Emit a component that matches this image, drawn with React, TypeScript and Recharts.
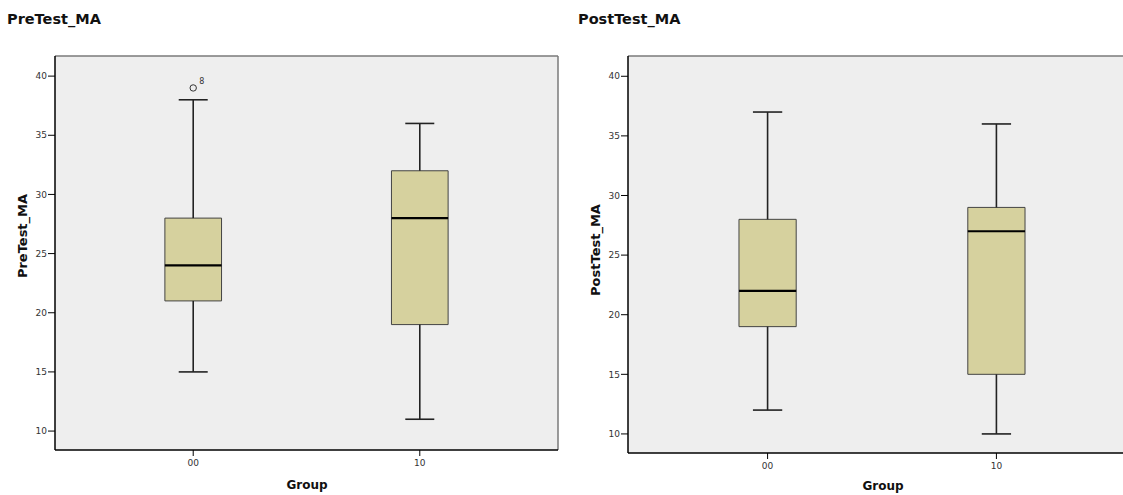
import { ComposedChart, ReferenceArea, ReferenceLine, Scatter, XAxis, YAxis } from 'recharts'

const groups = ['00', '10']
const yTicks = [10, 15, 20, 25, 30, 35, 40]

const preMin = [15, 11]
const preQ1 = [21, 19]
const preMedian = [24, 28]
const preQ3 = [28, 32]
const preMax = [38, 36]
const preOutlierGroup = [0]
const preOutlierValue = [39]
const preOutlierCase = ['8']

const postMin = [12, 10]
const postQ1 = [19, 15]
const postMedian = [22, 27]
const postQ3 = [28, 29]
const postMax = [37, 36]

const BOX_FILL = '#d6d19e'
const PLOT_BG = '#eeeeee'
const X_DOMAIN: [number, number] = [-0.61, 1.61]
const Y_DOMAIN: [number, number] = [8.4, 41.7]
const BOX_HALF = 0.125
const CAP_HALF = 0.064
const FONT = '"DejaVu Sans", Verdana, sans-serif'

type Stats = { min: number[]; q1: number[]; median: number[]; q3: number[]; max: number[] }
type Outlier = { x: number; y: number; label: string }

function OutlierMark(props: any) {
  const { cx, cy, payload } = props
  if (cx == null || cy == null) return null
  return (
    <g>
      <circle cx={cx} cy={cy} r={3.2} fill="none" stroke="#333" strokeWidth={1} />
      <text x={cx + 6} y={cy - 4} fontSize={8} fill="#333" fontFamily={FONT}>
        {payload.label}
      </text>
    </g>
  )
}

function BoxPanel({
  stats,
  outliers,
  width,
  height,
  margin,
}: {
  stats: Stats
  outliers: Outlier[]
  width: number
  height: number
  margin: { top: number; right: number; left: number; bottom: number }
}) {
  return (
    <ComposedChart width={width} height={height} margin={margin} data={outliers}>
      <ReferenceArea
        x1={X_DOMAIN[0]}
        x2={X_DOMAIN[1]}
        y1={Y_DOMAIN[0]}
        y2={Y_DOMAIN[1]}
        fill={PLOT_BG}
        fillOpacity={1}
        stroke="none"
        ifOverflow="visible"
      />
      <ReferenceLine
        segment={[{ x: X_DOMAIN[0], y: Y_DOMAIN[1] }, { x: X_DOMAIN[1], y: Y_DOMAIN[1] }]}
        stroke="#7a7a7a"
        strokeWidth={1.5}
        ifOverflow="visible"
      />
      <ReferenceLine
        segment={[{ x: X_DOMAIN[1], y: Y_DOMAIN[0] }, { x: X_DOMAIN[1], y: Y_DOMAIN[1] }]}
        stroke="#7a7a7a"
        strokeWidth={1.5}
        ifOverflow="visible"
      />
      {groups.map((_, i) => [
        <ReferenceLine
          key={`wl${i}`}
          segment={[{ x: i, y: stats.min[i] }, { x: i, y: stats.q1[i] }]}
          stroke="#222"
          strokeWidth={1.6}
        />,
        <ReferenceLine
          key={`wh${i}`}
          segment={[{ x: i, y: stats.q3[i] }, { x: i, y: stats.max[i] }]}
          stroke="#222"
          strokeWidth={1.6}
        />,
        <ReferenceLine
          key={`cl${i}`}
          segment={[{ x: i - CAP_HALF, y: stats.min[i] }, { x: i + CAP_HALF, y: stats.min[i] }]}
          stroke="#222"
          strokeWidth={1.6}
        />,
        <ReferenceLine
          key={`ch${i}`}
          segment={[{ x: i - CAP_HALF, y: stats.max[i] }, { x: i + CAP_HALF, y: stats.max[i] }]}
          stroke="#222"
          strokeWidth={1.6}
        />,
        <ReferenceArea
          key={`b${i}`}
          x1={i - BOX_HALF}
          x2={i + BOX_HALF}
          y1={stats.q1[i]}
          y2={stats.q3[i]}
          fill={BOX_FILL}
          fillOpacity={1}
          stroke="#444"
          strokeWidth={1}
        />,
        <ReferenceLine
          key={`m${i}`}
          segment={[{ x: i - BOX_HALF, y: stats.median[i] }, { x: i + BOX_HALF, y: stats.median[i] }]}
          stroke="#000"
          strokeWidth={2.2}
        />,
      ])}
      <Scatter dataKey="y" shape={<OutlierMark />} isAnimationActive={false} />
      <XAxis
        type="number"
        dataKey="x"
        domain={X_DOMAIN}
        ticks={[0, 1]}
        allowDataOverflow
        tickFormatter={(v: number) => groups[v] ?? ''}
        height={25}
        tickSize={6}
        tickMargin={4}
        axisLine={{ stroke: '#000', strokeWidth: 1.5 }}
        tickLine={{ stroke: '#000' }}
        tick={{ fontSize: 9, fill: '#333', fontFamily: FONT }}
      />
      <YAxis
        type="number"
        domain={Y_DOMAIN}
        ticks={yTicks}
        allowDataOverflow
        width={40}
        tickSize={7}
        tickMargin={1}
        axisLine={{ stroke: '#000', strokeWidth: 1.5 }}
        tickLine={{ stroke: '#000' }}
        tick={{ fontSize: 9, fill: '#333', fontFamily: FONT }}
      />
    </ComposedChart>
  )
}

const textBold = { position: 'absolute' as const, fontFamily: FONT, fontWeight: 'bold' as const, color: '#111', whiteSpace: 'nowrap' as const }

export default function App() {
  const preOutliers = preOutlierGroup.map((g, i) => ({ x: g, y: preOutlierValue[i], label: preOutlierCase[i] }))
  return (
    <div style={{ position: 'absolute', left: 0, top: 0, width: 1123, height: 495, overflow: 'hidden', background: '#fff' }}>
      <div style={{ ...textBold, left: 7, top: 11, fontSize: 14.5, lineHeight: '17px' }}>PreTest_MA</div>
      <div style={{ ...textBold, left: 578, top: 11, fontSize: 14.5, lineHeight: '17px' }}>PostTest_MA</div>

      <div style={{ position: 'absolute', left: 0, top: 0 }}>
        <BoxPanel
          stats={{ min: preMin, q1: preQ1, median: preMedian, q3: preQ3, max: preMax }}
          outliers={preOutliers}
          width={565}
          height={495}
          margin={{ top: 56, right: 7, left: 15, bottom: 20 }}
        />
      </div>
      <div style={{ position: 'absolute', left: 570, top: 0 }}>
        <BoxPanel
          stats={{ min: postMin, q1: postQ1, median: postMedian, q3: postQ3, max: postMax }}
          outliers={[]}
          width={570}
          height={495}
          margin={{ top: 56, right: 4, left: 18, bottom: 17 }}
        />
      </div>

      <div style={{ ...textBold, left: 22, top: 236, fontSize: 13, transform: 'translate(-50%, -50%) rotate(-90deg)' }}>
        PreTest_MA
      </div>
      <div style={{ ...textBold, left: 595, top: 250, fontSize: 13, transform: 'translate(-50%, -50%) rotate(-90deg)' }}>
        PostTest_MA
      </div>
      <div style={{ ...textBold, left: 307, top: 485, fontSize: 12, transform: 'translate(-50%, -50%)' }}>Group</div>
      <div style={{ ...textBold, left: 883, top: 486, fontSize: 12, transform: 'translate(-50%, -50%)' }}>Group</div>
    </div>
  )
}
